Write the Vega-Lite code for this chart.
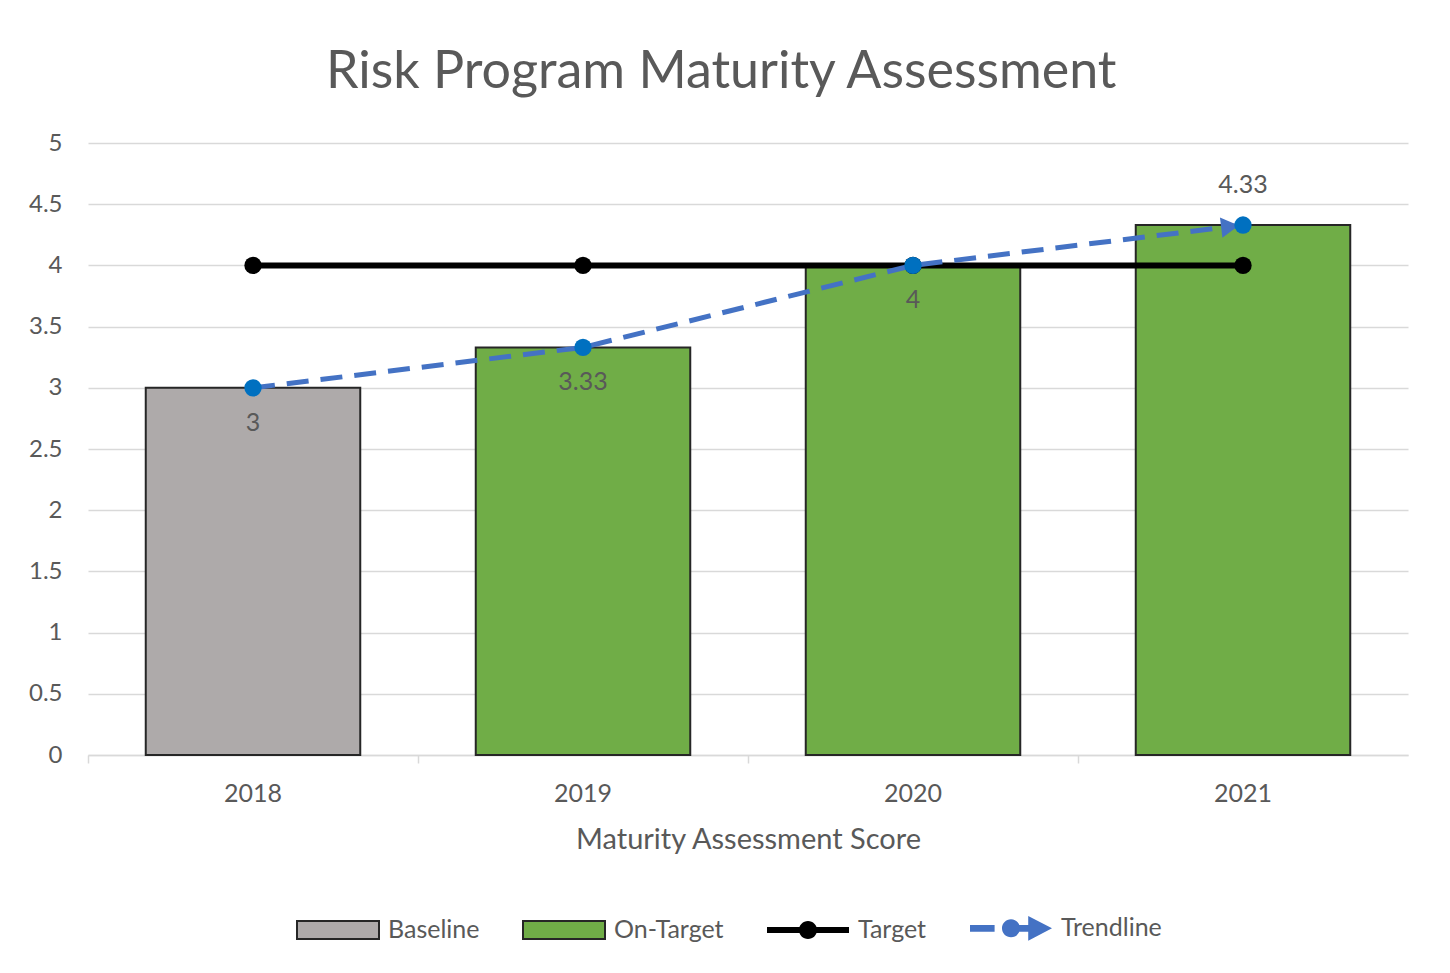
{
  "$schema": "https://vega.github.io/schema/vega-lite/v6.json",
  "width": 1320,
  "height": 612,
  "padding": {"left": 28, "top": 46, "right": 40, "bottom": 10},
  "background": "white",
  "title": {
    "text": "Risk Program Maturity Assessment",
    "font": "Lato",
    "fontSize": 52,
    "fontWeight": "normal",
    "color": "#595959",
    "anchor": "middle",
    "frame": "bounds",
    "offset": 32,
    "dx": 3
  },
  "config": {
    "font": "Lato",
    "view": {"stroke": null},
    "axis": {"labelFont": "Lato", "titleFont": "Lato", "labelColor": "#595959", "titleColor": "#595959"},
    "legend": {"labelFont": "Lato"}
  },
  "data": {
    "values": [
      {"year": "2018", "score": 3, "status": "Baseline", "target": 4, "label": "3"},
      {"year": "2019", "score": 3.33, "status": "On-Target", "target": 4, "label": "3.33"},
      {"year": "2020", "score": 4, "status": "On-Target", "target": 4, "label": "4"},
      {"year": "2021", "score": 4.33, "status": "On-Target", "target": 4, "label": "4.33"}
    ]
  },
  "encoding": {
    "x": {
      "field": "year",
      "type": "nominal",
      "sort": null,
      "scale": {"paddingInner": 0.35, "paddingOuter": 0.175},
      "axis": {
        "title": "Maturity Assessment Score",
        "titleFontSize": 29,
        "titleFontWeight": "normal",
        "titlePadding": 19,
        "labelAngle": 0,
        "labelFontSize": 25,
        "labelPadding": 18,
        "domainColor": "#D9D9D9",
        "domainWidth": 1.5,
        "tickColor": "#D9D9D9",
        "tickWidth": 1.5,
        "tickSize": 8,
        "bandPosition": -0.26923,
        "grid": false
      }
    }
  },
  "layer": [
    {
      "mark": {"type": "bar", "stroke": "#262626", "strokeWidth": 2},
      "encoding": {
        "y": {
          "field": "score",
          "type": "quantitative",
          "title": null,
          "scale": {"domain": [0, 5], "nice": false},
          "axis": {
            "values": [0, 0.5, 1, 1.5, 2, 2.5, 3, 3.5, 4, 4.5, 5],
            "format": "~g",
            "labelFontSize": 24,
            "labelPadding": 26,
            "domain": false,
            "ticks": false,
            "gridColor": "#D9D9D9",
            "gridWidth": 1.5
          }
        },
        "fill": {
          "field": "status",
          "type": "nominal",
          "scale": {
            "domain": ["Baseline", "On-Target", "Target", "Trendline"],
            "range": ["#AEAAAA", "#70AD47", "#000000", "#4472C4"]
          },
          "legend": {
            "title": null,
            "orient": "none",
            "legendX": 208,
            "legendY": 743,
            "direction": "horizontal",
            "labelFontSize": 25,
            "labelColor": "#595959",
            "labelOffset": 8,
            "columnPadding": 39,
            "symbolSize": 6724,
            "symbolStrokeWidth": 2,
            "symbolOpacity": 1
          }
        }
      }
    },
    {
      "mark": {"type": "point", "filled": true, "opacity": 0, "size": 10},
      "encoding": {
        "y": {"field": "score", "type": "quantitative", "title": null},
        "fill": {
          "field": "status",
          "type": "nominal",
          "legend": {
            "title": null,
            "orient": "none",
            "legendX": 208,
            "legendY": 743,
            "direction": "horizontal",
            "labelFontSize": 25,
            "labelColor": "#595959",
            "labelOffset": 8,
            "columnPadding": 39,
            "symbolSize": 6724,
            "symbolStrokeWidth": 2,
            "symbolOpacity": 1
          }
        },
        "shape": {
          "field": "status",
          "type": "nominal",
          "scale": {
            "domain": ["Baseline", "On-Target", "Target", "Trendline"],
            "range": [
              "M-1,-0.22H1V0.22H-1Z",
              "M-1,-0.22H1V0.22H-1Z",
              "M-1,-0.075H1V0.075H-1Z M-0.22,0A0.22,0.22,0,1,1,0.22,0A0.22,0.22,0,1,1,-0.22,0Z",
              "M-1,-0.08H-0.4V0.08H-1Z M-0.22,0A0.22,0.22,0,1,1,0.22,0A0.22,0.22,0,1,1,-0.22,0Z M0.15,-0.08H0.45V0.08H0.15Z M0.42,-0.3L1,0L0.42,0.3Z"
            ]
          },
          "legend": {
            "title": null,
            "orient": "none",
            "legendX": 208,
            "legendY": 743,
            "direction": "horizontal",
            "labelFontSize": 25,
            "labelColor": "#595959",
            "labelOffset": 8,
            "columnPadding": 39,
            "symbolSize": 6724,
            "symbolStrokeWidth": 2,
            "symbolOpacity": 1
          }
        },
        "stroke": {
          "field": "status",
          "type": "nominal",
          "scale": {
            "domain": ["Baseline", "On-Target", "Target", "Trendline"],
            "range": ["#262626", "#262626", "transparent", "transparent"]
          },
          "legend": {
            "title": null,
            "orient": "none",
            "legendX": 208,
            "legendY": 743,
            "direction": "horizontal",
            "labelFontSize": 25,
            "labelColor": "#595959",
            "labelOffset": 8,
            "columnPadding": 39,
            "symbolSize": 6724,
            "symbolStrokeWidth": 2,
            "symbolOpacity": 1
          }
        }
      }
    },
    {
      "mark": {"type": "line", "color": "#000000", "strokeWidth": 6},
      "encoding": {"y": {"field": "target", "type": "quantitative", "title": null}}
    },
    {
      "mark": {"type": "point", "filled": true, "color": "#000000", "size": 300, "opacity": 1},
      "encoding": {"y": {"field": "target", "type": "quantitative", "title": null}}
    },
    {
      "mark": {"type": "line", "color": "#4472C4", "strokeWidth": 5, "strokeDash": [22, 12]},
      "encoding": {"y": {"field": "score", "type": "quantitative", "title": null}}
    },
    {
      "transform": [{"filter": "datum.year === '2021'"}],
      "mark": {"type": "point", "shape": "triangle-right", "filled": true, "color": "#4472C4", "size": 420, "angle": -7, "xOffset": -13, "yOffset": 1.5, "opacity": 1},
      "encoding": {"y": {"field": "score", "type": "quantitative", "title": null}}
    },
    {
      "mark": {"type": "point", "filled": true, "color": "#0070C0", "size": 300, "opacity": 1},
      "encoding": {"y": {"field": "score", "type": "quantitative", "title": null}}
    },
    {
      "transform": [{"filter": "datum.year !== '2021'"}],
      "mark": {"type": "text", "fontSize": 25, "color": "#595959", "dy": 35, "baseline": "middle", "font": "Lato"},
      "encoding": {
        "y": {"field": "score", "type": "quantitative", "title": null},
        "text": {"field": "label"}
      }
    },
    {
      "transform": [{"filter": "datum.year === '2021'"}],
      "mark": {"type": "text", "fontSize": 25, "color": "#595959", "dy": -40, "baseline": "middle", "font": "Lato"},
      "encoding": {
        "y": {"field": "score", "type": "quantitative", "title": null},
        "text": {"field": "label"}
      }
    }
  ]
}
